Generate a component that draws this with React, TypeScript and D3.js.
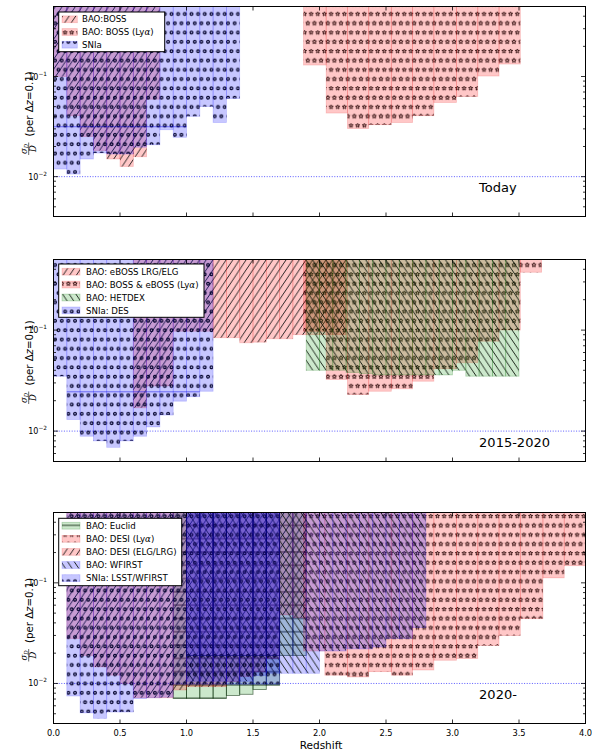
import React from "react";
import * as d3 from "d3";

// ================= DATA =================
// --- Panel 1: Today ---
const bossZ = [0.0, 0.1, 0.2, 0.3, 0.4, 0.5, 0.6, 0.7, 0.8];
const bossSigma = [0.1, 0.0406, 0.0252, 0.0182, 0.015, 0.0126, 0.0158, 0.0594];
const bossLyaZ = [1.88, 2.05, 2.21, 2.37, 2.54, 2.7, 2.86, 3.03, 3.19, 3.35, 3.51];
const bossLyaSigma = [0.13, 0.0431, 0.0303, 0.033, 0.0348, 0.0406, 0.055, 0.0633, 0.101, 0.133];
const snTodayZ = [0.0, 0.1, 0.2, 0.3, 0.4, 0.5, 0.6, 0.7, 0.8, 0.9, 1.0, 1.1, 1.2, 1.3, 1.4];
const snTodaySigma = [0.0119, 0.0106, 0.015, 0.0172, 0.0168, 0.0168, 0.0197, 0.0208, 0.0294, 0.0247, 0.04, 0.0502, 0.0348, 0.0604];
const snTodayEdgeZ = [0.0, 1.0];
const snTodayEdgeSigma = 0.0315;

// --- Panel 2: 2015-2020 ---
const eBossZ = [0.6, 0.7, 0.8, 0.9, 1.0, 1.1, 1.2, 1.3, 1.4, 1.5, 1.6, 1.7, 1.8, 1.9, 2.0, 2.1, 2.2];
const eBossSigma = [0.017, 0.0279, 0.028, 0.0975, 0.0975, 0.0975, 0.084, 0.084, 0.0748, 0.076, 0.082, 0.082, 0.09, 0.09, 0.09, 0.09];
const eBossLyaZ = [1.88, 2.05, 2.21, 2.37, 2.54, 2.7, 2.86, 3.03, 3.19, 3.35, 3.51, 3.67];
const eBossLyaSigma = [0.0975, 0.0325, 0.023, 0.0248, 0.0262, 0.0312, 0.0414, 0.0474, 0.0777, 0.1, 0.374];
const hetdexZ = [1.9, 2.0, 2.1, 2.2, 2.3, 2.4, 2.5, 2.6, 2.7, 2.8, 2.9, 3.0, 3.1, 3.2, 3.3, 3.4, 3.5];
const hetdexSigma = [0.04, 0.04, 0.04, 0.038, 0.037, 0.036, 0.036, 0.036, 0.036, 0.036, 0.036, 0.04, 0.035, 0.035, 0.035, 0.035];
const desZ = [0.0, 0.1, 0.2, 0.3, 0.4, 0.5, 0.6, 0.7, 0.8, 0.9, 1.0, 1.1, 1.2];
const desSigma = [0.035, 0.013, 0.0089, 0.008, 0.0069, 0.008, 0.0089, 0.011, 0.0144, 0.0198, 0.0219, 0.0248];
const desEdgeZ = [0.1, 1.1];
const desEdgeSigma = 0.0245;

// --- Panel 3: 2020- ---
const euclidZ = [0.9, 1.0, 1.1, 1.2, 1.3, 1.4, 1.5, 1.6, 1.7, 1.8, 1.9];
const euclidSigma = [0.0071, 0.0071, 0.0071, 0.0071, 0.0076, 0.0078, 0.0087, 0.0096, 0.019, 0.019];
const desiLyaZ = [1.88, 2.04, 2.21, 2.37, 2.54, 2.7, 2.86, 3.03, 3.19, 3.35, 3.51, 3.68, 3.84, 4.0];
const desiLyaSigma = [0.021, 0.0121, 0.0116, 0.0131, 0.0121, 0.0136, 0.017, 0.0177, 0.0239, 0.03, 0.044, 0.112, 0.148];
const desiElgZ = [0.1, 0.2, 0.3, 0.4, 0.5, 0.6, 0.7, 0.8, 0.9, 1.0, 1.1, 1.2, 1.3, 1.4, 1.5, 1.6, 1.7, 1.8, 1.9];
const desiElgSigma = [0.028, 0.019, 0.0146, 0.0121, 0.01, 0.0072, 0.0072, 0.0072, 0.0086, 0.0093, 0.0093, 0.0093, 0.0104, 0.0117, 0.013, 0.0177, 0.048, 0.045];
const wfirstZ = [1.0, 1.1, 1.2, 1.3, 1.4, 1.5, 1.6, 1.7, 1.8, 1.9, 2.0, 2.1, 2.2, 2.3, 2.4, 2.5, 2.6, 2.7, 2.8];
const wfirstSigma = [0.0105, 0.0105, 0.0105, 0.0105, 0.0105, 0.012, 0.0126, 0.0126, 0.0126, 0.0126, 0.021, 0.021, 0.022, 0.022, 0.023, 0.028, 0.028, 0.036];
const lsstZ = [0.1, 0.2, 0.3, 0.4, 0.5, 0.6, 0.7, 0.8, 0.9, 1.0, 1.1, 1.2, 1.3, 1.4, 1.5, 1.6, 1.7];
const lsstSigma = [0.0075, 0.0051, 0.0045, 0.0052, 0.0052, 0.0071, 0.0072, 0.0073, 0.0098, 0.0098, 0.0098, 0.0098, 0.0098, 0.0098, 0.0098, 0.0098];
const wfirstSnZ = [1.0, 1.1, 1.2, 1.3, 1.4, 1.5, 1.6, 1.7];
const wfirstSnSigma = [0.019, 0.019, 0.019, 0.019, 0.019, 0.019, 0.019];

// --- labels ---
const xTicks = [0, 0.5, 1, 1.5, 2, 2.5, 3, 3.5, 4];
const panelTitles = ["Today", "2015-2020", "2020-"];
const legendToday = ["BAO:BOSS", "BAO: BOSS (Lyα)", "SNIa"];
const legendMid = ["BAO: eBOSS LRG/ELG", "BAO: BOSS & eBOSS (Lyα)", "BAO: HETDEX", "SNIa: DES"];
const legendFut = ["BAO: Euclid", "BAO: DESI (Lyα)", "BAO: DESI (ELG/LRG)", "BAO: WFIRST", "SNIa: LSST/WFIRST"];

// ================= STYLE / LAYOUT =================
const W = 592, H = 750;
const X0 = 53.5, X1 = 585.5;
const xScale = d3.scaleLinear().domain([0, 4]).range([X0, X1]);
const PANELS = [
  { top: 6.5, bottom: 216.5, yMin: 0.004, yMax: 0.5 },
  { top: 259.5, bottom: 461.5, yMin: 0.005, yMax: 0.5 },
  { top: 512.5, bottom: 723.5, yMin: 0.004, yMax: 0.5 },
];
const FONT = "DejaVu Sans, sans-serif";
const SERIF = "DejaVu Serif, serif";

const BLUE = "rgba(0,0,255,0.22)";
const RED = "rgba(255,0,0,0.22)";
const GREEN = "rgba(0,140,0,0.2)";
const DEEP = "rgba(70,40,255,0.2)";
const BLUE_E = "rgba(0,0,255,0.18)";
const RED_E = "rgba(220,0,0,0.18)";
const GREEN_E = "rgba(0,110,0,0.25)";
const EUCLID_E = "rgba(0,40,0,0.55)";
const DEEP_E = "rgba(0,0,110,0.7)";

const HX = 6.65, HY = 9.3, HL = 10;

function starPath(cx: number, cy: number, R: number, r: number) {
  const pts: string[] = [];
  for (let k = 0; k < 10; k++) {
    const a = -Math.PI / 2 + (k * Math.PI) / 5;
    const rr = k % 2 === 0 ? R : r;
    pts.push(`${(cx + rr * Math.cos(a)).toFixed(2)},${(cy + rr * Math.sin(a)).toFixed(2)}`);
  }
  return "M" + pts.join("L") + "Z";
}

type Series = { z: number[]; s: number[]; fill: string; pat: string | null; edge: string; edgeW?: number };

function Bars({ ser, y, top }: { ser: Series; y: any; top: number }) {
  const rects = ser.s.map((v, i) => {
    const x0 = xScale(ser.z[i]);
    const x1 = xScale(ser.z[i + 1]);
    const yb = y(v);
    return { x: x0, w: x1 - x0, y: top - 3, h: yb - (top - 3) };
  });
  const d = rects.map((r) => `M${r.x},${r.y}H${r.x + r.w}V${r.y + r.h}H${r.x}Z`).join("");
  return (
    <g>
      <path d={d} fill={ser.fill} />
      {ser.pat && <path d={d} fill={`url(#${ser.pat})`} />}
      {rects.map((r, i) => (
        <rect key={i} x={r.x} y={r.y} width={r.w} height={r.h} fill="none" stroke={ser.edge} strokeWidth={ser.edgeW ?? 0.8} />
      ))}
    </g>
  );
}

function Label({ text }: { text: string }) {
  const parts = text.split("α");
  if (parts.length === 1) return <>{text}</>;
  return (
    <>
      {parts[0]}
      <tspan fontFamily={SERIF} fontStyle="italic">α</tspan>
      {parts[1]}
    </>
  );
}

type LegendEntry = { fill: string; pat: string; edge: string };

function Legend({ x, y, w, h, y0, step, patchW, textX, labels, entries }: any) {
  return (
    <g>
      <rect x={x} y={y} width={w} height={h} fill="#fff" stroke="#000" strokeWidth={1} />
      {labels.map((lab: string, i: number) => {
        const cy = y0 + i * step;
        const e: LegendEntry = entries[i];
        return (
          <g key={i}>
            <rect x={62} y={cy - 3.4} width={patchW} height={6.8} fill={e.fill} />
            <rect x={62} y={cy - 3.4} width={patchW} height={6.8} fill={`url(#${e.pat})`} />
            <rect x={62} y={cy - 3.4} width={patchW} height={6.8} fill="none" stroke={e.edge} strokeWidth={0.8} />
            <text x={textX} y={cy + 3.1} fontFamily={FONT} fontSize={8.6} fill="#000">
              <Label text={lab} />
            </text>
          </g>
        );
      })}
    </g>
  );
}

function YLabel({ cx, cy }: { cx: number; cy: number }) {
  return (
    <g transform={`translate(${cx},${cy}) rotate(-90)`} fill="#000">
      <text x={-36.5} y={-2.3} fontFamily={SERIF} fontStyle="italic" fontSize={8.5} textAnchor="middle">
        σ<tspan fontSize={5.5} dy={1.2}>D</tspan>
      </text>
      <line x1={-42.5} x2={-30} y1={-0.3} y2={-0.3} stroke="#000" strokeWidth={0.6} />
      <text x={-36.2} y={7.3} fontFamily={SERIF} fontStyle="italic" fontSize={8.5} textAnchor="middle">D</text>
      <text x={-24} y={3.8} fontFamily={FONT} fontSize={10.2}>
        (per Δ<tspan fontStyle="italic">z</tspan>=0.1)
      </text>
    </g>
  );
}

function Axes({ p, y, showX }: { p: any; y: any; showX: boolean }) {
  const minor: number[] = [];
  [0.001, 0.01, 0.1].forEach((dec) => {
    for (let k = 2; k <= 9; k++) {
      const v = k * dec;
      if (v >= p.yMin && v <= p.yMax) minor.push(v);
    }
  });
  const major = [0.01, 0.1];
  return (
    <g stroke="#000" strokeWidth={0.8}>
      {minor.map((v, i) => (
        <g key={"m" + i}>
          <line x1={X0} x2={X0 + 2.5} y1={y(v)} y2={y(v)} />
          <line x1={X1} x2={X1 - 2.5} y1={y(v)} y2={y(v)} />
        </g>
      ))}
      {major.map((v, i) => (
        <g key={"M" + i}>
          <line x1={X0} x2={X0 + 4.5} y1={y(v)} y2={y(v)} />
          <line x1={X1} x2={X1 - 4.5} y1={y(v)} y2={y(v)} />
          <text x={47} y={y(v) + 3} stroke="none" fill="#000" fontFamily={FONT} fontSize={8} textAnchor="end">
            10<tspan fontSize={5.8} dy={-4}>−{i === 0 ? 2 : 1}</tspan>
          </text>
        </g>
      ))}
      {xTicks.map((t, i) => (
        <g key={"x" + i}>
          <line x1={xScale(t)} x2={xScale(t)} y1={p.bottom} y2={p.bottom - 4} />
          <line x1={xScale(t)} x2={xScale(t)} y1={p.top} y2={p.top + 4} />
          {showX && (
            <text x={xScale(t)} y={p.bottom + 12.5} stroke="none" fill="#000" fontFamily={FONT} fontSize={8.3} textAnchor="middle">
              {d3.format(".1f")(t)}
            </text>
          )}
        </g>
      ))}
      <rect x={X0} y={p.top} width={X1 - X0} height={p.bottom - p.top} fill="none" stroke="#000" strokeWidth={1} />
    </g>
  );
}

export default function App() {
  const ys = PANELS.map((p) => d3.scaleLog().domain([p.yMin, p.yMax]).range([p.bottom, p.top]));

  const layers: Series[][] = [
    [
      { z: bossZ, s: bossSigma, fill: RED, pat: "pFwd", edge: RED_E },
      { z: bossLyaZ, s: bossLyaSigma, fill: RED, pat: "pStar", edge: RED_E },
      { z: snTodayZ, s: snTodaySigma, fill: BLUE, pat: "pCirc", edge: BLUE_E },
    ],
    [
      { z: eBossZ, s: eBossSigma, fill: RED, pat: "pFwd", edge: RED_E },
      { z: eBossLyaZ, s: eBossLyaSigma, fill: RED, pat: "pStar", edge: RED_E },
      { z: hetdexZ, s: hetdexSigma, fill: GREEN, pat: "pBack", edge: GREEN_E },
      { z: desZ, s: desSigma, fill: BLUE, pat: "pCirc", edge: BLUE_E },
    ],
    [
      { z: euclidZ, s: euclidSigma, fill: GREEN, pat: "pHoriz", edge: EUCLID_E, edgeW: 0.9 },
      { z: desiLyaZ, s: desiLyaSigma, fill: RED, pat: "pStar", edge: RED_E },
      { z: desiElgZ, s: desiElgSigma, fill: RED, pat: "pFwd", edge: RED_E },
      { z: wfirstZ, s: wfirstSigma, fill: BLUE, pat: "pBack", edge: BLUE_E },
      { z: lsstZ, s: lsstSigma, fill: BLUE, pat: "pCirc", edge: BLUE_E },
      { z: wfirstSnZ, s: wfirstSnSigma, fill: DEEP, pat: null, edge: DEEP_E, edgeW: 0.9 },
    ],
  ];

  const edgeLines = [
    { z: snTodayEdgeZ, s: snTodayEdgeSigma },
    { z: desEdgeZ, s: desEdgeSigma },
    null,
  ];

  const legends = [
    {
      x: 58.7, y: 12, w: 106, h: 39.7, y0: 19.3, step: 12.7, patchW: 15.3, textX: 82, labels: legendToday,
      entries: [
        { fill: RED, pat: "pFwd", edge: RED_E },
        { fill: RED, pat: "pStar", edge: RED_E },
        { fill: BLUE, pat: "pCirc", edge: BLUE_E },
      ],
    },
    {
      x: 58.7, y: 264, w: 145.3, h: 53.3, y0: 271.7, step: 12.9, patchW: 18, textX: 86, labels: legendMid,
      entries: [
        { fill: RED, pat: "pFwd", edge: RED_E },
        { fill: RED, pat: "pStar", edge: RED_E },
        { fill: GREEN, pat: "pBack", edge: GREEN_E },
        { fill: BLUE, pat: "pCirc", edge: BLUE_E },
      ],
    },
    {
      x: 58.7, y: 518.3, w: 123, h: 67.4, y0: 525.7, step: 13.1, patchW: 18, textX: 86, labels: legendFut,
      entries: [
        { fill: GREEN, pat: "pHoriz", edge: GREEN_E },
        { fill: RED, pat: "pStar", edge: RED_E },
        { fill: RED, pat: "pFwd", edge: RED_E },
        { fill: BLUE, pat: "pBack", edge: BLUE_E },
        { fill: BLUE, pat: "pCirc", edge: BLUE_E },
      ],
    },
  ];

  const circ = [
    [1.9, HY / 2],
    [1.9 + HX / 2, HY * 1.5],
  ];

  return (
    <svg width={W} height={H} viewBox={`0 0 ${W} ${H}`} style={{ position: "absolute", left: 0, top: 0, display: "block", background: "#fff" }}>
      <defs>
        {PANELS.map((p, i) => (
          <clipPath id={`clip${i}`} key={i}>
            <rect x={X0} y={p.top} width={X1 - X0} height={p.bottom - p.top} />
          </clipPath>
        ))}
        <pattern id="pCirc" patternUnits="userSpaceOnUse" width={HX} height={HY * 2}>
          {circ.flatMap(([cx, cy], j) =>
            [-HX, 0, HX].map((dx, k) => (
              <circle key={`${j}-${k}`} cx={cx + dx} cy={cy} r={1.35} fill="none" stroke="#000028" strokeWidth={1.15} />
            ))
          )}
        </pattern>
        <pattern id="pStar" patternUnits="userSpaceOnUse" width={HX} height={HY * 2}>
          {circ.flatMap(([cx, cy], j) =>
            [-HX, 0, HX].map((dx, k) => (
              <path key={`${j}-${k}`} d={starPath(cx + dx, cy, 2.2, 0.95)} fill="none" stroke="#220000" strokeWidth={0.9} />
            ))
          )}
        </pattern>
        <pattern id="pFwd" patternUnits="userSpaceOnUse" width={HX} height={HL}>
          <path d={`M${-HX},${HL}L0,0M0,${HL}L${HX},0M${HX},${HL}L${2 * HX},0`} stroke="#111" strokeWidth={0.9} />
        </pattern>
        <pattern id="pBack" patternUnits="userSpaceOnUse" width={HX} height={HL}>
          <path d={`M${-HX},0L0,${HL}M0,0L${HX},${HL}M${HX},0L${2 * HX},${HL}`} stroke="#0a140a" strokeWidth={0.9} />
        </pattern>
        <pattern id="pHoriz" patternUnits="userSpaceOnUse" width={10} height={13.3}>
          <path d="M0,6.65L10,6.65" stroke="#0a200a" strokeWidth={0.9} />
        </pattern>
      </defs>
      <rect x={0} y={0} width={W} height={H} fill="#fff" />

      {PANELS.map((p, i) => {
        const y = ys[i];
        const el = edgeLines[i];
        return (
          <g key={i}>
            <g clipPath={`url(#clip${i})`}>
              <line x1={X0} x2={X1} y1={y(0.01)} y2={y(0.01)} stroke="#5a5aff" strokeWidth={1} strokeDasharray="1,1.6" />
              {layers[i].map((ser, j) => (
                <Bars key={j} ser={ser} y={y} top={p.top} />
              ))}
              {el && (
                <line x1={xScale(el.z[0])} x2={xScale(el.z[1])} y1={y(el.s)} y2={y(el.s)} stroke="rgba(0,0,230,0.6)" strokeWidth={0.8} />
              )}
            </g>
            <Axes p={p} y={y} showX={i === 2} />
            <Legend {...legends[i]} />
            <text x={xScale(3.2)} y={y(0.007)} fontFamily={FONT} fontSize={13} fill="#000">
              {panelTitles[i]}
            </text>
            <YLabel cx={29} cy={(p.top + p.bottom) / 2 + 1} />
          </g>
        );
      })}
      <text x={321} y={748.5} fontFamily={FONT} fontSize={10.5} textAnchor="middle" fill="#000">
        Redshift
      </text>
    </svg>
  );
}
